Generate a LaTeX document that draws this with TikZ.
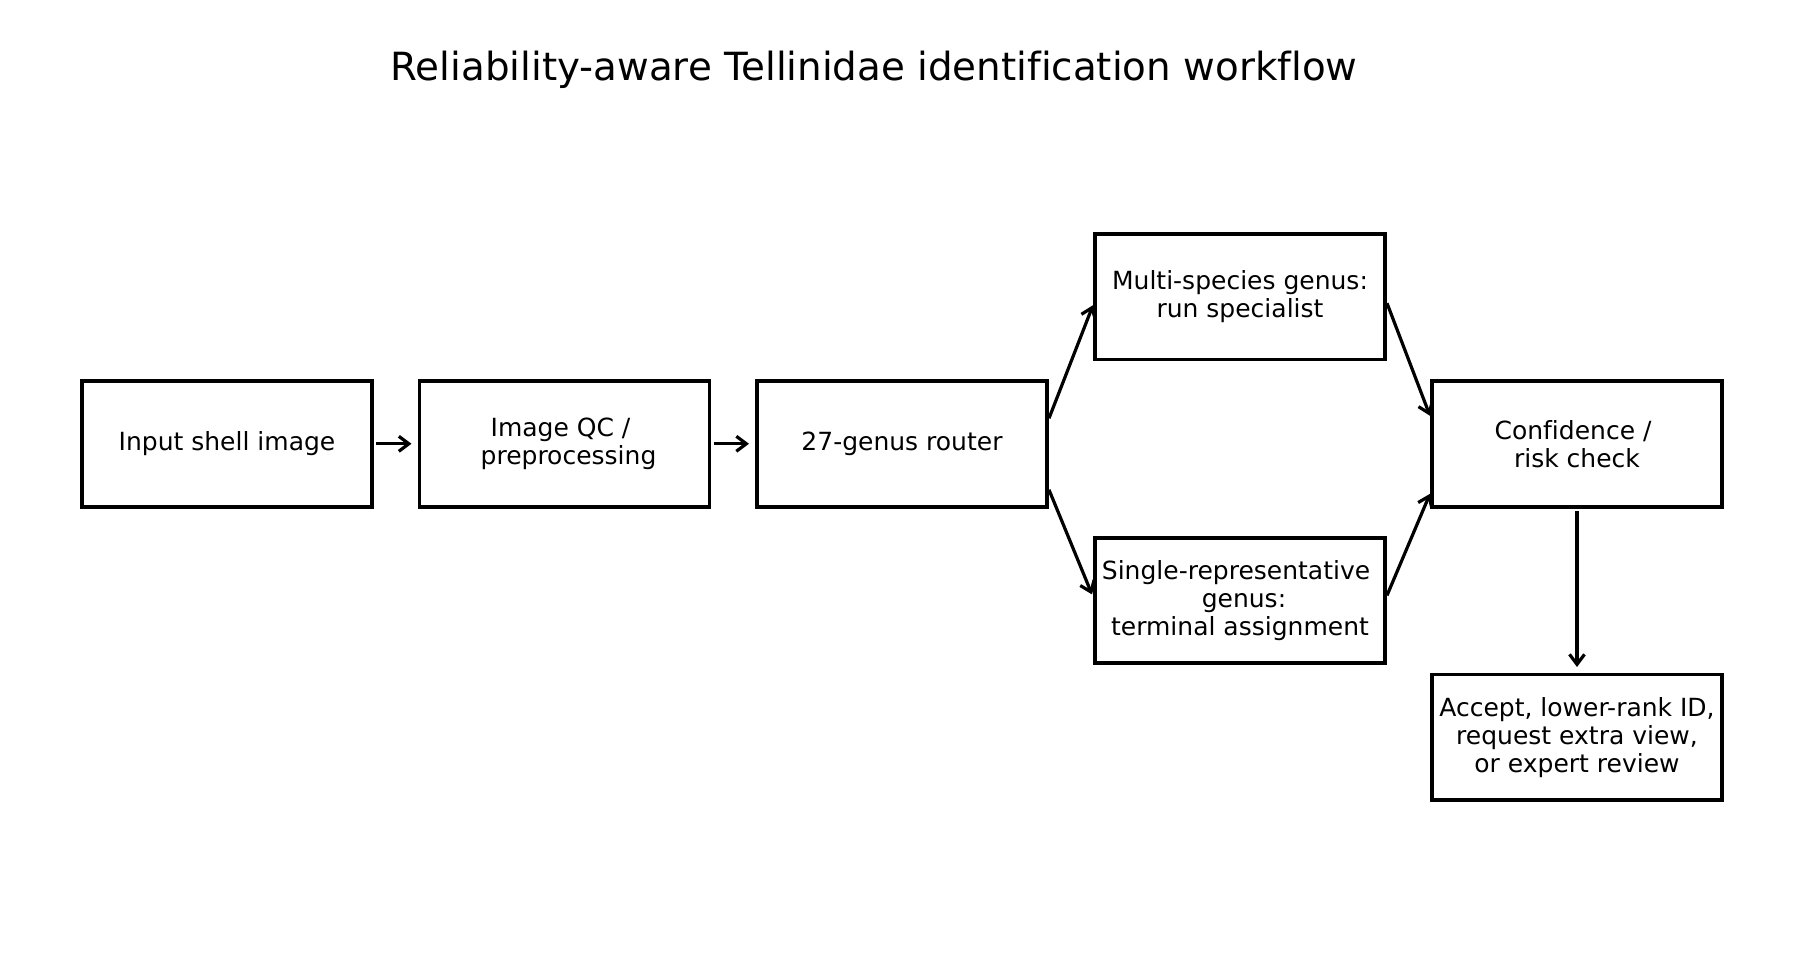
\documentclass[tikz,border=0pt]{standalone}
\usepackage{fontspec}
\setmainfont[Ligatures=NoCommon]{DejaVu Sans}
\usetikzlibrary{arrows.meta}
\newcommand{\tsp}{\hbox to 0.318em{}}
\begin{document}
\begin{tikzpicture}[x=1pt,y=-1pt,
  box/.style={draw=black, line width=3.8pt, fill=white, rectangle, inner sep=0pt, outer sep=0pt,
    minimum width=290pt, minimum height=125.6pt, align=center,
    font=\fontsize{25}{28}\selectfont},
  arr/.style={draw=black, line width=3.2pt, -{Straight Barb[length=10pt,width=15pt,line width=3.2pt]}},
  ttl/.style={font=\fontsize{38.8}{46}\selectfont, anchor=base, inner sep=0pt}]
\useasboundingbox[fill=white] (0,0) rectangle (1805,955);
\node[ttl] (title) at (874,81) {Reliability-aware Tellinidae identification workflow};
\node[box] (b1) at (227,443.8) {Input shell image};
\node[box] (b2) at (564.5,443.8) {Image QC /\tsp\\\tsp preprocessing};
\node[box] (r) at (902,443.8) {27-genus router};
\node[box] (ms) at (1240,296.7) {Multi-species genus:\\run specialist};
\node[box] (sg) at (1240,600.4) {Single-representative\tsp\\\tsp genus:\\terminal assignment};
\node[box] (cf) at (1577,443.8) {Confidence /\tsp\\risk check};
\node[box] (ac) at (1577,737.3) {Accept, lower-rank ID,\\request extra view,\\or expert review};
\draw[arr] ([shift={(4,0)}]b1.east) -- ([shift={(-8,0)}]b2.west);
\draw[arr] ([shift={(4,0)}]b2.east) -- ([shift={(-8,0)}]r.west);
\draw[arr] ([shift={(2,-25.5)}]r.east) -- ([shift={(-2,8.5)}]ms.west);
\draw[arr] ([shift={(2,46)}]r.east) -- ([shift={(-3,-6)}]sg.west);
\draw[arr] ([shift={(2,6.5)}]ms.east) -- ([shift={(-2,-28)}]cf.west);
\draw[arr] ([shift={(2,-5)}]sg.east) -- ([shift={(-2,50)}]cf.west);
\draw[arr] ([shift={(0,4)}]cf.south) -- ([shift={(0,-7.5)}]ac.north);
\end{tikzpicture}
\end{document}
